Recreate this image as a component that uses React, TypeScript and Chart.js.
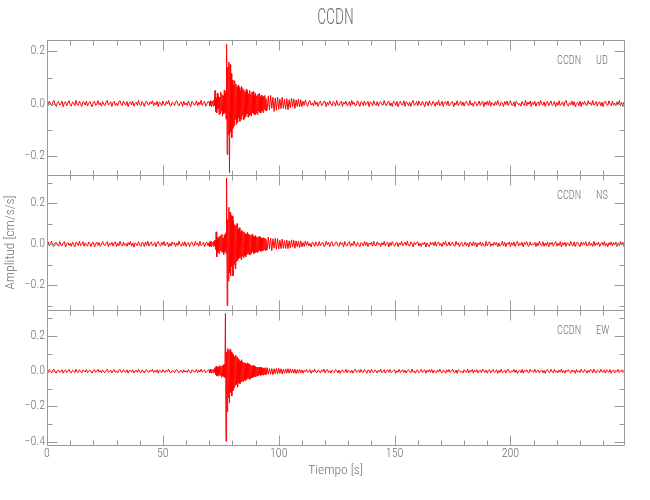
import React, { useEffect, useRef } from "react";
import { Chart, registerables } from "chart.js";

Chart.register(...registerables);

// ---------- text ----------
const TITLE = "CCDN";
const STATION = "CCDN";
const COMPONENTS = ["UD", "NS", "EW"];
const X_TITLE = "Tiempo [s]";
const Y_TITLE = "Amplitud [cm/s/s]";

// ---------- axes ----------
const X_TICKS = [0, 50, 100, 150, 200];
const X_MIN = 0;
const X_MAX = 249;
const X_MINOR = 10;
const Y_MINOR = 0.1;
const Y_TICKS_UD = [-0.2, 0, 0.2];
const Y_TICKS_NS = [-0.2, 0, 0.2];
const Y_TICKS_EW = [-0.4, -0.2, 0, 0.2];
const Y_RANGE_UD = [-0.274, 0.244];
const Y_RANGE_NS = [-0.321, 0.337];
const Y_RANGE_EW = [-0.419, 0.348];

// ---------- samples (values in 0.001 cm/s/s) ----------
// PRE:   every 0.5 s from t = 0 s   (0 .. 69.5 s)
// EVENT: every 0.25 s from t = 70 s (70 .. 94.75 s)
// POST:  every 0.5 s from t = 95 s  (95 .. 249 s)
const PRE_STEP = 0.5;
const EVENT_STEP = 0.25;
const POST_STEP = 0.5;
const MILLI = 0.001;

const UD_PRE = [
  3, -7, 10, -2, -9, 6, 12, -4, -11, 5,
  8, -6, -1, 9, -12, 4, 7, -8, 2, 11,
  -5, -10, 6, 3, -8, 12, -3, -7, 9, -1,
  -11, 7, 4, -6, 10, -9, 1, 8, -4, -12,
  6, 9, -7, -2, 11, -5, 3, -10, 8, -3,
  -8, 5, 12, -6, -1, 7, -11, 4, 9, -7,
  2, -9, 6, 11, -4, -8, 10, -2, -6, 8,
  -12, 3, 7, -5, 9, -10, 1, 6, -7, 12,
  -4, -9, 8, 2, -11, 5, 10, -3, -6, 7,
  -1, 11, -8, 4, -5, 9, -12, 6, 3, -9,
  10, -4, -7, 8, -2, 12, -6, -10, 5, 1,
  -8, 7, 11, -3, -9, 4, 6, -11, 9, -5,
  2, -7, 10, -1, -12, 8, 5, -6, -3, 11,
  -9, 6, -4, 13, -7, 3, 9, -10, -2, 8,
];
const UD_EVENT = [
  6, -9, 11, -4, -12, 8, 5, -10, 13, -7,
  50, -30, 22, -35, 40, -18, 30, -42, 25, -38,
  45, -28, 35, -48, 30, -40, 52, -35, 42, -60,
  227, -195, 140, -120, 160, -265, 150, -110, 115, -130,
  90, -95, 70, -85, 88, -60, 75, -80, 65, -72,
  70, -55, 62, -68, 50, -60, 66, -45, 58, -62,
  52, -58, 45, -50, 55, -40, 48, -52, 38, -47,
  50, -42, 36, -48, 44, -35, 46, -40, 32, -44,
  40, -36, 30, -42, 35, -28, 38, -33, 26, -36,
  32, -28, 25, -34, 29, -22, 31, -26, 20, -28,
];
const UD_POST = [
  -24, 30, -25, 32, -18, 24, -30, 22, -26, 25,
  -22, 18, -20, 24, -18, 16, -21, 19, -24, 15,
  -17, 20, -12, 18, -19, 14, -11, 17, -13, 15,
  -12, 9, -7, 14, -3, -10, 8, 11, -6, 2,
  -9, 12, -4, 6, -11, 3, 10, -8, -2, 9,
  7, -12, 5, -6, 11, -1, -9, 8, 4, -10,
  12, -5, -8, 3, 9, -11, 6, -2, 10, -7,
  -4, 8, -10, 12, -3, 5, -9, -6, 11, 2,
  -11, 7, 4, -8, 10, -5, -1, 9, -12, 6,
  3, -9, 11, -2, -7, 8, -10, 5, 7, -4,
  -6, 12, -3, -9, 6, 10, -8, 2, -11, 9,
  5, -7, 8, -12, 1, 9, -5, -4, 11, -10,
  7, 3, -9, 6, -11, 4, 12, -7, -2, 8,
  -8, 10, -4, -6, 9, -1, -12, 7, 5, -9,
  11, -3, -7, 8, 2, -10, 6, -5, 12, -8,
  -2, 9, -11, 4, 7, -6, 10, -9, -3, 5,
  8, -12, 3, -5, 11, -8, 1, 9, -7, 6,
  -10, 4, 9, -3, -8, 12, -6, 2, -11, 7,
  5, -9, -2, 10, -7, 3, 8, -12, 6, -4,
  9, -6, 11, -10, 4, -1, -8, 7, -5, 12,
  -3, -9, 6, 2, -11, 8, -4, 10, -7, 3,
  11, -5, -8, 7, -12, 9, 4, -6, 1, -10,
  8, -2, -7, 12, -9, 5, -3, 10, -11, 6,
  -4, 9, -10, 3, 6, -8, 12, -1, -6, 7,
  -11, 5, 8, -9, 2, 10, -7, -3, 9, -12,
  4, -6, 11, -8, -2, 7, -10, 6, 12, -5,
  -9, 3, -4, 10, -7, 8, -12, 1, 5, -8,
  10, -11, 6, -3, 9, -5, -8, 11, -2, 4,
  -7, 12, -6, -1, 8, -10, 3, 7, -9, 5,
  -12, 6, 9, -4, -7, 11, -3, -8, 10, -6,
  2, -9, 7, -5, 12, -8, 4, -11, 6,
];

const NS_PRE = [
  -5, 11, -9, 3, 14, -7, -12, 6, 9, -2,
  -10, 13, -4, -8, 7, 12, -14, 1, 8, -6,
  4, -11, 10, -3, -13, 9, 5, -7, 15, -8,
  -2, 12, -10, 6, -5, -9, 11, 3, -12, 7,
  9, -14, 2, 10, -6, 8, -11, -1, 13, -4,
  -7, 6, 12, -13, 4, -3, 9, -10, 7, 11,
  -12, 5, -8, 14, -2, -9, 10, -6, 3, -11,
  8, -4, 13, -10, 6, -15, 7, 1, -8, 12,
  -3, -11, 9, 5, -12, 10, -6, 14, -9, 2,
  11, -7, -4, 8, -13, 6, 12, -2, -10, 9,
  -5, 13, -8, 3, 10, -14, 4, -9, 11, -1,
  7, -12, 6, -6, 15, -3, -10, 9, -7, 12,
  -11, 4, 8, -13, 2, 11, -5, -9, 13, -4,
  6, -10, 14, -7, -2, 9, -12, 5, 10, -8,
];
const NS_EVENT = [
  8, -12, 14, -6, -13, 10, 7, -11, 15, -9,
  20, -25, 60, -62, 35, -40, 28, -45, 38, -30,
  42, -35, 48, -40, 30, -50, 45, -38, 55, -45,
  322, -300, 120, -180, 180, -140, 155, -155, 140, -110,
  136, -155, 110, -100, 95, -120, 90, -85, 100, -80,
  72, -70, 80, -65, 60, -75, 68, -58, 62, -66,
  60, -55, 52, -62, 48, -50, 58, -45, 50, -52,
  46, -50, 42, -44, 48, -38, 40, -46, 36, -42,
  42, -38, 36, -40, 32, -36, 38, -30, 34, -35,
  30, -34, 28, -30, 32, -26, 29, -31, 24, -28,
];
const NS_POST = [
  -30, 34, -22, 30, -32, 26, -20, 28, -25, 27,
  -24, 19, -22, 25, -20, 17, -21, 19, -22, 16,
  -18, 21, -14, 19, -20, 16, -13, 15, -17, 16,
  -13, 8, -11, 15, -6, 12, -9, 4, -14, 10,
  5, -12, 11, -4, -9, 13, -7, 2, 10, -11,
  -8, 14, -3, 9, -13, 6, 12, -10, -5, 8,
  11, -6, -12, 10, -2, 7, -14, 13, -4, -9,
  6, 12, -11, 4, -7, 15, -5, -10, 9, -3,
  -12, 8, 2, -9, 13, -6, 10, -13, 5, -1,
  9, -10, 14, -5, -8, 11, -3, 6, -12, 7,
  -4, 13, -9, 3, 10, -14, 8, -7, 12, -2,
  -11, 5, 9, -12, 6, -4, 13, -8, 1, 10,
  -7, 14, -6, -10, 11, 2, -13, 9, -3, 8,
  12, -9, 4, -11, 7, -2, 10, -14, 6, -5,
  -13, 10, -3, 8, -7, 12, -10, 5, 11, -6,
  3, -12, 9, -4, 14, -8, -5, 11, -9, 2,
  10, -6, -11, 13, -2, 7, -12, 4, 9, -10,
  -5, 11, -8, 6, -13, 10, 3, -9, 12, -7,
  8, -14, 5, -3, 11, -10, 7, -6, -12, 13,
  -9, 4, 12, -11, 2, -7, 10, -4, 8, -13,
  6, -10, -3, 14, -8, 9, -12, 5, -1, 11,
  -12, 7, -6, 10, -11, 3, 13, -9, 4, -5,
  9, -13, 8, -2, 12, -7, -10, 11, -6, 2,
  -4, 10, -12, 6, -9, 14, -3, -8, 12, -11,
  5, -7, 11, -13, 7, -1, 9, -10, 3, 13,
  -10, 4, -6, 12, -14, 8, -5, 10, -11, 6,
  2, -9, 13, -4, -8, 11, -12, 7, 9, -3,
  -13, 10, -5, 8, -2, 12, -9, -6, 11, -7,
  4, -11, 14, -8, 6, -3, 10, -12, 2, 9,
  -6, 12, -10, 5, -13, 7, -4, 11, -9, 8,
  -3, 10, -12, 6, -7, 13, -5, 9, -11,
];

const EW_PRE = [
  5, -8, 10, -3, -9, 6, 11, -5, -10, 4,
  7, -6, -2, 9, -11, 3, 8, -7, 1, 10,
  -4, -9, 6, 2, -8, 11, -3, -6, 9, -1,
  -10, 7, 3, -5, 10, -8, 2, 7, -4, -11,
  6, 8, -7, -1, 11, -5, 4, -9, 7, -3,
  -8, 4, 12, -6, -2, 7, -10, 3, 9, -6,
  2, -9, 5, 10, -4, -7, 9, -2, -5, 8,
  -11, 3, 6, -4, 8, -10, 1, 5, -7, 11,
  -3, -8, 7, 2, -10, 5, 9, -3, -6, 6,
  -1, 10, -7, 4, -5, 8, -11, 5, 3, -8,
  9, -4, -6, 7, -2, 11, -5, -9, 4, 1,
  -7, 6, 10, -3, -8, 4, 5, -10, 8, -5,
  2, -6, 9, -1, -11, 7, 5, -5, -3, 10,
  -8, 6, -4, 12, -6, 3, 8, -9, -2, 7,
];
const EW_EVENT = [
  7, -10, 12, -5, -11, 8, 4, -9, 12, -6,
  20, -18, 30, -25, 22, -28, 26, -20, 32, -24,
  28, -34, 30, -26, 36, -30, 40, -35, 328, -398,
  110, -230, 130, -150, 120, -180, 125, -120, 110, -140,
  100, -110, 90, -95, 85, -80, 92, -75, 80, -90,
  70, -65, 60, -72, 58, -60, 66, -55, 52, -58,
  50, -48, 45, -52, 42, -45, 48, -40, 44, -46,
  40, -42, 35, -38, 30, -36, 34, -30, 28, -32,
  26, -28, 24, -25, 22, -26, 24, -20, 22, -24,
  21, -20, 18, -22, 19, -17, 20, -18, 16, -19,
];
const EW_POST = [
  21, -16, 15, -17, 15, -20, 14, -14, 16, -15,
  17, -12, 14, -16, 12, -11, 13, -11, 15, -12,
  14, -10, 11, -11, 12, -13, 9, -10, 11, -9,
  8, -11, 6, -3, 10, -7, -2, 9, -12, 5,
  -6, 11, -4, -8, 7, 2, -10, 8, -3, 12,
  -9, 5, 10, -7, 3, -11, 6, -1, -8, 9,
  4, -10, 7, -12, 1, 8, -5, -4, 11, -9,
  7, 2, -9, 6, -11, 4, 12, -6, -2, 8,
  -8, 10, -4, -6, 9, -1, -12, 7, 5, -9,
  11, -3, -7, 8, 2, -10, 6, -5, 12, -8,
  -2, 9, -11, 4, 7, -6, 10, -9, -3, 5,
  8, -12, 3, -5, 11, -8, 1, 9, -7, 6,
  -10, 4, 9, -3, -8, 12, -6, 2, -11, 7,
  5, -9, -2, 10, -7, 3, 8, -12, 6, -4,
  9, -6, 11, -10, 4, -1, -8, 7, -5, 12,
  -3, -9, 6, 2, -11, 8, -4, 10, -7, 3,
  11, -5, -8, 7, -12, 9, 4, -6, 1, -10,
  8, -2, -7, 12, -9, 5, -3, 10, -11, 6,
  -4, 9, -10, 3, 6, -8, 12, -1, -6, 7,
  -11, 5, 8, -9, 2, 10, -7, -3, 9, -12,
  4, -6, 11, -8, -2, 7, -10, 6, 12, -5,
  -9, 3, -4, 10, -7, 8, -12, 1, 5, -8,
  10, -11, 6, -3, 9, -5, -8, 11, -2, 4,
  -7, 12, -6, -1, 8, -10, 3, 7, -9, 5,
  -12, 6, 9, -4, -7, 11, -3, -8, 10, -6,
  2, -9, 7, -5, 12, -8, 4, -11, 6, -1,
  9, -4, -10, 8, -3, 6, -12, 10, -5, 3,
  -8, 11, -2, -7, 9, 4, -11, 5, -6, 10,
  6, -10, 12, -4, -9, 7, 1, -8, 11, -3,
  -5, 8, -11, 9, -1, -6, 10, -12, 4, 7,
  -10, 5, -3, 11, -8, 2, 9, -7, 6,
];

// ---------- style ----------
const FONT = "'Roboto Condensed', 'Liberation Sans Narrow', 'DejaVu Sans Condensed', Roboto, sans-serif";
const FONT_WEIGHT = "300";
const LINE_GRAY = "#9a9a9a";
const TEXT_GRAY = "#707070";
const TRACE_RED = "#ff0000";
const W = 650;
const H = 500;
const PLOT_LEFT = 47;
const PLOT_RIGHT = 624;
const X_AXIS_HEIGHT = 40;
const CONDENSE_TITLE = 0.72;
const CONDENSE_LABEL = 0.8;
// panel pixel bounds (top, bottom)
const PANEL_BOUNDS = [
  [40, 175],
  [175, 310],
  [310, 445],
];

Chart.defaults.font.family = FONT;
Chart.defaults.font.weight = FONT_WEIGHT as any;
Chart.defaults.color = TEXT_GRAY;

type Pt = { x: number; y: number };

function toPoints(pre: number[], ev: number[], post: number[]): Pt[] {
  const pts: Pt[] = [];
  const evStart = X_MIN + pre.length * PRE_STEP;
  const postStart = evStart + ev.length * EVENT_STEP;
  pre.forEach((v, i) => pts.push({ x: X_MIN + i * PRE_STEP, y: v * MILLI }));
  ev.forEach((v, i) => pts.push({ x: evStart + i * EVENT_STEP, y: v * MILLI }));
  post.forEach((v, i) => pts.push({ x: postStart + i * POST_STEP, y: v * MILLI }));
  return pts;
}

const PANELS = [
  { comp: COMPONENTS[0], pre: UD_PRE, ev: UD_EVENT, post: UD_POST, ticks: Y_TICKS_UD, range: Y_RANGE_UD },
  { comp: COMPONENTS[1], pre: NS_PRE, ev: NS_EVENT, post: NS_POST, ticks: Y_TICKS_NS, range: Y_RANGE_NS },
  { comp: COMPONENTS[2], pre: EW_PRE, ev: EW_EVENT, post: EW_POST, ticks: Y_TICKS_EW, range: Y_RANGE_EW },
];

const fmtY = (v: number) => {
  const s = Number(v).toFixed(1);
  return s.startsWith("-") ? "\u2212" + s.slice(1) : s;
};

function drawCondensed(ctx: any, text: string, x: number, y: number, size: number, align: string, sx: number) {
  ctx.save();
  ctx.font = `${FONT_WEIGHT} ${size}px ${FONT}`;
  ctx.fillStyle = TEXT_GRAY;
  ctx.textBaseline = "middle";
  ctx.textAlign = align;
  ctx.translate(x, y);
  ctx.scale(sx, 1);
  ctx.fillText(text, 0, 0);
  ctx.restore();
}

const framePlugin = {
  id: "seismoFrame",
  afterDraw(chart: any, _args: any, opts: any) {
    const { ctx, chartArea: a, scales } = chart;
    const xs = scales.x;
    const ys = scales.y;
    const L = Math.round(a.left) + 0.5;
    const R = Math.round(a.right) + 0.5;
    const T = Math.round(a.top) + 0.5;
    const B = Math.round(a.bottom) + 0.5;
    ctx.save();
    ctx.strokeStyle = LINE_GRAY;
    ctx.lineWidth = 1;
    ctx.beginPath();
    ctx.rect(L, T, R - L, B - T);
    for (let v = X_MIN; v <= X_MAX + 1e-9; v += X_MINOR) {
      const px = Math.round(xs.getPixelForValue(v)) + 0.5;
      const len = X_TICKS.includes(v) ? 10 : 5;
      ctx.moveTo(px, T);
      ctx.lineTo(px, T + len);
      ctx.moveTo(px, B);
      ctx.lineTo(px, B - len);
    }
    const k0 = Math.ceil(ys.min / Y_MINOR - 1e-9);
    const k1 = Math.floor(ys.max / Y_MINOR + 1e-9);
    for (let k = k0; k <= k1; k++) {
      const py = Math.round(ys.getPixelForValue(k * Y_MINOR)) + 0.5;
      const len = k % 2 === 0 ? 10 : 5;
      ctx.moveTo(L, py);
      ctx.lineTo(L + len, py);
      ctx.moveTo(R, py);
      ctx.lineTo(R - len, py);
    }
    ctx.stroke();
    ctx.restore();
    drawCondensed(ctx, STATION, a.right - 67, a.top + 21, 13, "left", CONDENSE_LABEL);
    drawCondensed(ctx, opts.component, a.right - 28, a.top + 21, 13, "left", CONDENSE_LABEL);
    if (opts.title) {
      drawCondensed(ctx, opts.title, (a.left + a.right) / 2, 18, 22, "center", CONDENSE_TITLE);
    }
  },
};

function buildConfig(i: number): any {
  const p = PANELS[i];
  const [top, bottom] = PANEL_BOUNDS[i];
  const isFirst = i === 0;
  const isLast = i === PANELS.length - 1;
  const padBottom = isLast ? H - bottom - X_AXIS_HEIGHT : H - bottom;
  return {
    type: "line",
    data: {
      datasets: [
        {
          data: toPoints(p.pre, p.ev, p.post),
          borderColor: TRACE_RED,
          borderWidth: 1,
          pointRadius: 0,
          tension: 0,
          fill: false,
        },
      ],
    },
    plugins: [framePlugin],
    options: {
      animation: false,
      responsive: false,
      events: [],
      parsing: false,
      layout: {
        padding: { left: 0, right: W - PLOT_RIGHT, top: top, bottom: padBottom },
      },
      plugins: {
        legend: { display: false },
        tooltip: { enabled: false },
        title: { display: false },
        seismoFrame: { component: p.comp, title: isFirst ? TITLE : "" },
      },
      scales: {
        x: {
          type: "linear",
          min: X_MIN,
          max: X_MAX,
          display: isLast,
          afterBuildTicks: (s: any) => {
            s.ticks = X_TICKS.map((value) => ({ value }));
          },
          afterFit: (s: any) => {
            s.height = isLast ? X_AXIS_HEIGHT : 0;
          },
          grid: { display: false, drawTicks: false },
          border: { display: false },
          ticks: {
            color: TEXT_GRAY,
            font: { size: 12 },
            padding: 2,
            maxRotation: 0,
            callback: (v: number) => String(v),
          },
          title: {
            display: true,
            text: X_TITLE,
            color: TEXT_GRAY,
            font: { size: 13.5 },
            padding: { top: 0, bottom: 6 },
          },
        },
        y: {
          type: "linear",
          min: p.range[0],
          max: p.range[1],
          afterBuildTicks: (s: any) => {
            s.ticks = p.ticks.map((value) => ({ value }));
          },
          afterFit: (s: any) => {
            s.width = PLOT_LEFT;
          },
          grid: { display: false, drawTicks: false },
          border: { display: false },
          ticks: {
            color: TEXT_GRAY,
            font: { size: 12 },
            padding: 2,
            callback: (v: number) => fmtY(v),
          },
          title: {
            display: i === 1,
            text: Y_TITLE,
            color: TEXT_GRAY,
            font: { size: 13.5 },
            padding: { top: 3, bottom: 0 },
          },
        },
      },
    },
  };
}

export default function App() {
  const refs = useRef<(HTMLCanvasElement | null)[]>([]);
  useEffect(() => {
    const charts = PANELS.map((_, i) => new Chart(refs.current[i] as HTMLCanvasElement, buildConfig(i)));
    return () => charts.forEach((c) => c.destroy());
  }, []);
  return (
    <div style={{ position: "fixed", left: 0, top: 0, width: W, height: H, background: "#fff" }}>
      {PANELS.map((_, i) => (
        <canvas
          key={i}
          ref={(el) => {
            refs.current[i] = el;
          }}
          width={W}
          height={H}
          style={{ position: "absolute", left: 0, top: 0, width: W, height: H }}
        />
      ))}
    </div>
  );
}
